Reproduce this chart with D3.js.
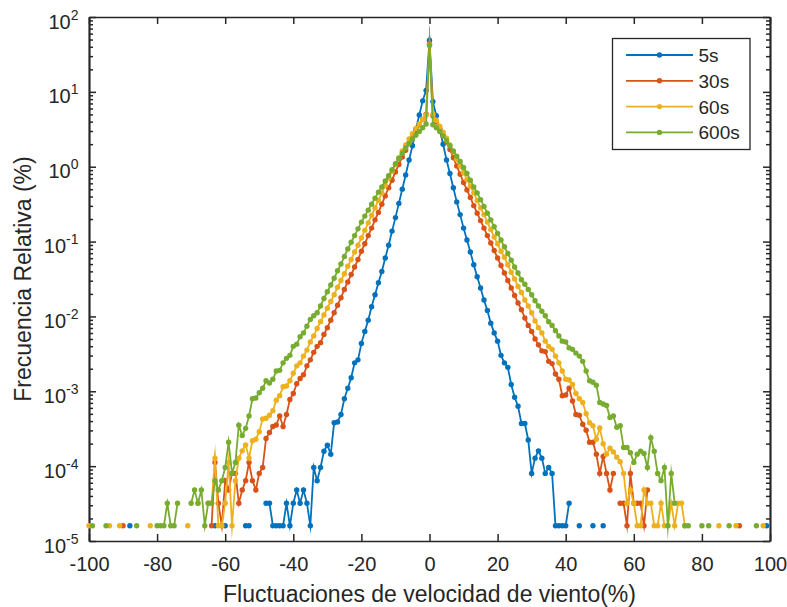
<!DOCTYPE html>
<html>
<head>
<meta charset="utf-8">
<script src="https://cdn.jsdelivr.net/npm/d3@7"></script>
<style>
  html, body { margin: 0; padding: 0; background: #ffffff; }
  svg { display: block; font-family: "Liberation Sans", Arial, Helvetica, sans-serif; }
</style>
</head>
<body>
<svg id="chart" width="787" height="607"></svg>
<script>
// Wind-speed fluctuation bins (%), one bin per integer from -100 to 100.
const fluctuation = d3.range(-100, 101);

// log10 of the relative frequency (%) in each bin; null = empty bin (not drawn on a log axis).
const log5s = [
  null, null, null, null, null, null, null, null, null, null,            // -100..-91
  null, null, -4.796, null, null, null, null, null, null, null,          // -90..-81
  null, null, null, null, null, null, null, null, null, null,            // -80..-71
  null, null, null, null, null, null, null, -4.796, null, null,          // -70..-61
  -4.796, null, null, null, null, null, -4.796, -4.796, null, null,      // -60..-51
  null, null, -4.495, -4.495, -4.796, -4.796, -4.796, -4.796, -4.495, -4.796, // -50..-41
  -4.495, -4.319, -4.495, -4.319, -4.495, -4.796, -4.018, -4.194, -4.018, -3.80, // -40..-31
  -3.72, -3.84, -3.42, -3.41, -3.31, -3.10, -2.96, -2.82, -2.62, -2.58,  // -30..-21
  -2.36, -2.20, -2.05, -1.87, -1.71, -1.55, -1.40, -1.22, -1.05, -0.86,  // -20..-11
  -0.68, -0.49, -0.30, -0.11, 0.09, 0.28, 0.50, 0.69, 0.88, 1.02,        // -10..-1
  1.69,                                                                  // 0
  0.87, 0.68, 0.50, 0.30, 0.09, -0.09, -0.28, -0.47, -0.64, -0.82,       // 1..10
  -0.98, -1.14, -1.31, -1.47, -1.62, -1.78, -1.92, -2.09, -2.22, -2.33,  // 11..20
  -2.52, -2.62, -2.68, -2.91, -3.08, -3.20, -3.43, -3.43, -3.65, -4.097, // 21..30
  -3.893, -3.796, -3.893, -4.097, -4.018, -4.097, -4.796, -4.796, -4.796, -4.796, // 31..40
  -4.495, null, null, -4.796, null, null, null, -4.796, null, null,      // 41..50
  -4.796, null, null, null, null, null, null, null, null, null,          // 51..60
  null, null, null, null, null, null, null, null, null, null,            // 61..70
  null, null, null, null, null, null, null, null, null, null,            // 71..80
  null, null, null, null, null, null, null, null, null, null,            // 81..90
  null, null, null, null, null, null, null, null, -4.796, null           // 91..100
];

const log30s = [
  null, null, null, null, null, null, null, null, null, null,            // -100..-91
  -4.796, null, null, null, null, null, null, null, null, null,          // -90..-81
  null, null, null, null, null, null, null, null, null, null,            // -80..-71
  null, null, null, null, null, null, -4.796, -3.951, -4.495, -4.796,    // -70..-61
  -4.194, -4.319, -4.097, -4.097, -4.495, -4.319, -4.194, -3.951, -4.194, -4.319, // -60..-51
  -4.097, -4.018, -3.63, -3.55, -3.47, -3.45, -3.33, -3.47, -3.31, -3.11, // -50..-41
  -3.03, -2.90, -2.83, -2.78, -2.66, -2.58, -2.48, -2.40, -2.35, -2.24,  // -40..-31
  -2.15, -2.05, -1.95, -1.85, -1.75, -1.64, -1.54, -1.44, -1.34, -1.24,  // -30..-21
  -1.13, -1.03, -0.92, -0.82, -0.71, -0.61, -0.50, -0.39, -0.28, -0.18,  // -20..-11
  -0.07, 0.03, 0.13, 0.22, 0.31, 0.40, 0.48, 0.56, 0.63, 0.70,           // -10..-1
  1.64,                                                                  // 0
  0.68, 0.60, 0.51, 0.42, 0.33, 0.23, 0.12, 0.01, -0.10, -0.21,          // 1..10
  -0.31, -0.41, -0.52, -0.62, -0.72, -0.82, -0.92, -1.02, -1.12, -1.22,  // 11..20
  -1.32, -1.42, -1.52, -1.62, -1.72, -1.82, -1.91, -2.02, -2.12, -2.20,  // 21..30
  -2.30, -2.38, -2.46, -2.47, -2.60, -2.63, -2.77, -2.84, -3.06, -3.05,  // 31..40
  -2.96, -3.13, -3.31, -3.32, -3.44, -3.52, -3.68, -3.68, -3.84, -4.097, // 41..50
  -3.87, -4.097, -4.319, -4.097, null, -4.495, -4.495, -4.796, -4.097, -4.495, // 51..60
  -4.495, -4.495, -4.796, -4.319, null, null, null, null, null, null,    // 61..70
  null, null, null, null, null, null, null, null, null, null,            // 71..80
  null, null, null, null, null, null, null, null, null, null,            // 81..90
  -4.796, null, null, null, null, null, null, null, null, null           // 91..100
];

const log60s = [
  -4.796, null, null, null, null, null, -4.796, null, null, -4.796,      // -100..-91
  null, null, null, null, null, null, null, null, -4.796, null,          // -90..-81
  null, null, null, null, null, null, null, null, null, -4.796,          // -80..-71
  null, null, -4.495, null, null, -4.495, -4.495, -3.893, -4.796, -4.796, // -70..-61
  -4.495, -3.951, -4.796, -4.194, -3.893, -3.796, -3.717, -3.893, -3.66, -3.64, // -60..-51
  -3.54, -3.37, -3.36, -3.32, -3.26, -3.12, -3.06, -2.94, -2.93, -2.86,  // -50..-41
  -2.76, -2.66, -2.62, -2.53, -2.45, -2.34, -2.26, -2.16, -2.07, -1.98,  // -40..-31
  -1.89, -1.80, -1.71, -1.61, -1.52, -1.43, -1.33, -1.24, -1.14, -1.05,  // -30..-21
  -0.95, -0.85, -0.75, -0.65, -0.55, -0.45, -0.35, -0.25, -0.15, -0.06,  // -20..-11
  0.03, 0.12, 0.21, 0.29, 0.37, 0.44, 0.51, 0.57, 0.63, 0.69,            // -10..-1
  1.63,                                                                  // 0
  0.70, 0.62, 0.54, 0.46, 0.38, 0.29, 0.20, 0.10, 0.01, -0.08,           // 1..10
  -0.17, -0.26, -0.35, -0.45, -0.55, -0.64, -0.74, -0.84, -0.94, -1.03,  // 11..20
  -1.13, -1.21, -1.31, -1.41, -1.50, -1.60, -1.68, -1.78, -1.86, -1.95,  // 21..30
  -2.06, -2.15, -2.22, -2.33, -2.40, -2.44, -2.53, -2.62, -2.73, -2.84,  // 31..40
  -2.85, -2.91, -3.03, -3.10, -3.15, -3.30, -3.42, -3.46, -3.64, -3.49,  // 41..50
  -3.70, -3.84, -3.76, -3.81, -3.88, -3.94, -4.097, -4.495, -4.319, -4.495, // 51..60
  -4.796, -4.796, -4.319, -4.495, -4.495, -4.796, -4.796, -4.495, -4.796, -4.796, // 61..70
  -4.495, -4.796, -4.495, -4.495, -4.796, null, null, null, null, null,  // 71..80
  null, null, null, null, -4.796, null, null, null, null, -4.796,        // 81..90
  null, null, null, null, null, null, null, -4.796, null, null           // 91..100
];

const log600s = [
  null, -4.796, null, null, null, -4.796, null, null, null, null,        // -100..-91
  null, null, null, null, -4.796, null, null, null, null, null,          // -90..-81
  -4.796, -4.796, -4.796, -4.495, -4.796, -4.796, -4.495, null, null, null, // -80..-71
  -4.495, -4.319, -4.495, -4.319, -4.796, -4.495, -4.495, -4.194, -4.319, -4.194, // -70..-61
  -4.018, -3.68, -4.097, -3.951, -3.454, -3.592, -3.495, -3.33, -3.10, -3.09, // -60..-51
  -3.02, -2.96, -2.86, -2.89, -2.84, -2.73, -2.72, -2.62, -2.56, -2.52,  // -50..-41
  -2.40, -2.37, -2.27, -2.22, -2.13, -2.04, -1.99, -1.95, -1.86, -1.76,  // -40..-31
  -1.67, -1.58, -1.49, -1.39, -1.30, -1.20, -1.10, -1.01, -0.92, -0.83,  // -30..-21
  -0.74, -0.66, -0.58, -0.50, -0.42, -0.34, -0.27, -0.19, -0.12, -0.04,  // -20..-11
  0.04, 0.11, 0.18, 0.25, 0.31, 0.37, 0.42, 0.47, 0.52, 0.57,            // -10..-1
  1.62,                                                                  // 0
  0.56, 0.52, 0.47, 0.41, 0.35, 0.28, 0.21, 0.14, 0.07, -0.01,           // 1..10
  -0.09, -0.18, -0.27, -0.35, -0.44, -0.53, -0.62, -0.71, -0.80, -0.89,  // 11..20
  -0.98, -1.07, -1.16, -1.25, -1.34, -1.42, -1.51, -1.57, -1.64, -1.71,  // 21..30
  -1.79, -1.86, -1.93, -1.99, -2.07, -2.12, -2.19, -2.26, -2.33, -2.34,  // 31..40
  -2.42, -2.44, -2.49, -2.53, -2.60, -2.73, -2.86, -2.88, -2.92, -3.15,  // 41..50
  -3.17, -3.19, -3.35, -3.33, -3.48, -3.46, -3.75, -3.75, -3.82, -3.95,  // 51..60
  -3.84, -3.80, -3.83, -4.018, -3.62, -3.80, -4.097, -4.194, -4.018, -4.796, // 61..70
  -4.097, -4.495, null, null, -4.796, -4.796, null, null, null, -4.796,  // 71..80
  null, -4.796, null, null, null, null, null, -4.796, null, null,        // 81..90
  null, null, null, null, null, -4.796, null, null, null, null           // 91..100
];

const seriesNames = ["5s", "30s", "60s", "600s"];
const seriesLogValues = [log5s, log30s, log60s, log600s];
const seriesColors = ["#0072BD", "#D95319", "#EDB120", "#77AC30"];

const xTickValues = [-100, -80, -60, -40, -20, 0, 20, 40, 60, 80, 100];
const yDecadeExponents = [-5, -4, -3, -2, -1, 0, 1, 2];

const xTitle = "Fluctuaciones de velocidad de viento(%)";
const yTitle = "Frecuencia Relativa (%)";

// ---- layout ----
const plotLeft = 89, plotTop = 17, plotRight = 770, plotBottom = 541;
const plotW = plotRight - plotLeft, plotH = plotBottom - plotTop;
const ink = "#262626";
const lineWidth = 1.8, dotRadius = 2.7;

const svg = d3.select("#chart");
svg.append("rect").attr("width", 787).attr("height", 607).attr("fill", "#ffffff");

const x = d3.scaleLinear().domain([-100, 100]).range([0, plotW]);
const y = d3.scaleLog().domain([1e-5, 1e2]).range([plotH, 0]);

const g = svg.append("g").attr("transform", `translate(${plotLeft},${plotTop})`);

const decades = yDecadeExponents.map(e => Math.pow(10, e));
const minorTicks = y.ticks().filter(v => !decades.some(d => Math.abs(v / d - 1) < 1e-9));

function styleAxis(sel) {
  sel.attr("font-size", null).attr("font-family", null);
  sel.selectAll("path.domain").attr("stroke", ink).attr("stroke-width", 1.7);
  sel.selectAll(".tick line").attr("stroke", ink).attr("stroke-width", 1.5);
}

// minor log ticks, left and right
g.append("g")
  .call(d3.axisLeft(y).tickValues(minorTicks).tickSizeInner(-4).tickSizeOuter(0).tickFormat(() => ""))
  .call(styleAxis);
g.append("g").attr("transform", `translate(${plotW},0)`)
  .call(d3.axisRight(y).tickValues(minorTicks).tickSizeInner(-4).tickSizeOuter(0).tickFormat(() => ""))
  .call(styleAxis);

// major decade ticks with 10^n labels
const yAxisLeft = g.append("g")
  .call(d3.axisLeft(y).tickValues(decades).tickSizeInner(-7).tickSizeOuter(0).tickPadding(10.5).tickFormat(() => ""))
  .call(styleAxis);
yAxisLeft.selectAll(".tick text").each(function (d) {
  const t = d3.select(this);
  t.attr("dy", null).attr("y", 11).attr("fill", ink).attr("text-anchor", "end");
  t.append("tspan").attr("font-size", 20).text("10");
  t.append("tspan").attr("font-size", 14).attr("dy", -9).text(String(Math.round(Math.log10(d))));
});
g.append("g").attr("transform", `translate(${plotW},0)`)
  .call(d3.axisRight(y).tickValues(decades).tickSizeInner(-7).tickSizeOuter(0).tickFormat(() => ""))
  .call(styleAxis);

// x axis, bottom with labels and top mirror
const xAxisBottom = g.append("g").attr("transform", `translate(0,${plotH})`)
  .call(d3.axisBottom(x).tickValues(xTickValues).tickSizeInner(-7).tickSizeOuter(0).tickPadding(0).tickFormat(d => String(d)))
  .call(styleAxis);
xAxisBottom.selectAll(".tick text")
  .attr("dy", null).attr("y", 30).attr("fill", ink).attr("font-size", 20);
g.append("g")
  .call(d3.axisTop(x).tickValues(xTickValues).tickSizeInner(-7).tickSizeOuter(0).tickFormat(() => ""))
  .call(styleAxis);

// ---- series ----
const line = d3.line()
  .defined(d => d.v !== null)
  .x(d => x(d.x))
  .y(d => y(Math.pow(10, d.v)));

seriesLogValues.forEach((vals, i) => {
  const pts = fluctuation.map((fx, k) => ({ x: fx, v: vals[k] }));
  const sg = g.append("g").attr("class", "series");
  sg.append("path")
    .datum(pts)
    .attr("d", line)
    .attr("fill", "none")
    .attr("stroke", seriesColors[i])
    .attr("stroke-width", lineWidth)
    .attr("stroke-linejoin", "miter")
    .attr("stroke-miterlimit", 30);
  sg.selectAll("circle")
    .data(pts.filter(d => d.v !== null))
    .join("circle")
    .attr("cx", d => x(d.x))
    .attr("cy", d => y(Math.pow(10, d.v)))
    .attr("r", dotRadius)
    .attr("fill", seriesColors[i]);
});

// ---- titles ----
svg.append("text")
  .attr("x", plotLeft + plotW / 2).attr("y", 601.5)
  .attr("text-anchor", "middle").attr("font-size", 23).attr("fill", ink)
  .text(xTitle);
svg.append("text")
  .attr("transform", `translate(31,${plotTop + plotH / 2}) rotate(-90)`)
  .attr("text-anchor", "middle").attr("font-size", 23).attr("fill", ink)
  .text(yTitle);

// ---- legend ----
const legend = svg.append("g").attr("transform", "translate(612.5,38.5)");
legend.append("rect").attr("width", 137.5).attr("height", 111)
  .attr("fill", "#ffffff").attr("stroke", ink).attr("stroke-width", 1.3);
seriesNames.forEach((name, i) => {
  const ry = 16.5 + i * 25.8;
  const row = legend.append("g").attr("transform", `translate(0,${ry})`);
  row.append("line").attr("x1", 13.5).attr("x2", 80.5).attr("y1", 0).attr("y2", 0)
    .attr("stroke", seriesColors[i]).attr("stroke-width", lineWidth);
  row.append("circle").attr("cx", 47).attr("cy", 0).attr("r", dotRadius).attr("fill", seriesColors[i]);
  row.append("text").attr("x", 86).attr("y", 7).attr("font-size", 19).attr("fill", ink).text(name);
});
</script>
</body>
</html>
